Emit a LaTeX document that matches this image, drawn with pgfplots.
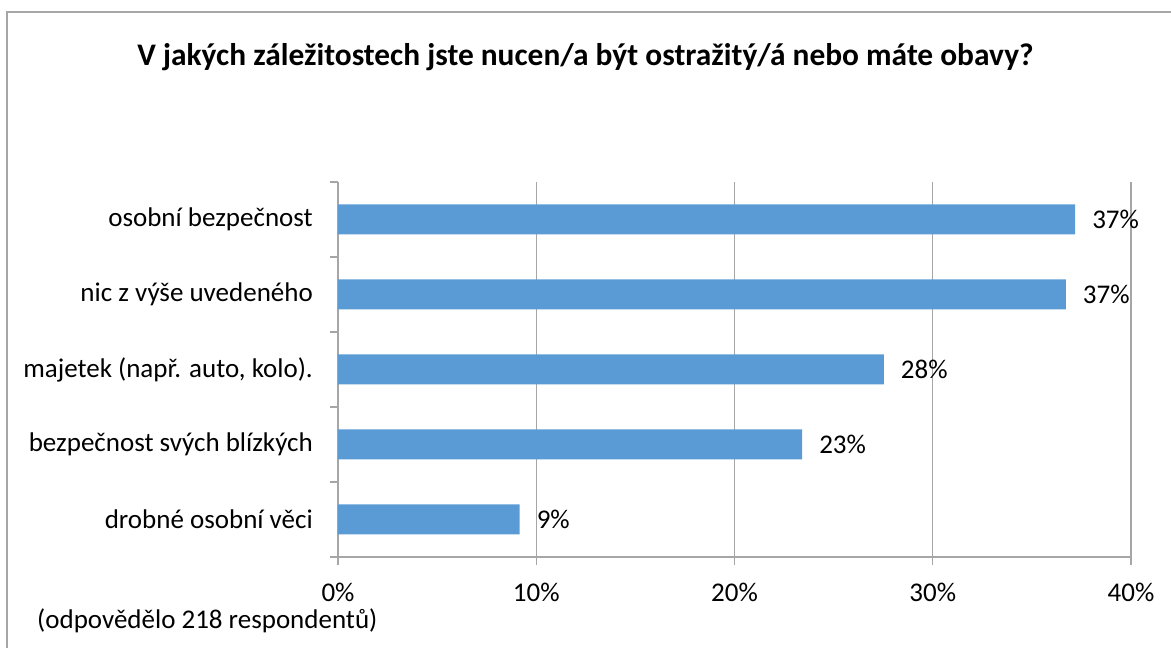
\documentclass[border=0pt]{standalone}
\usepackage{pgfplots}
\pgfplotsset{compat=1.18}
\usepackage{fontspec}
\setmainfont{Carlito}
\definecolor{barblue}{HTML}{5B9BD5}
\definecolor{gridgray}{HTML}{A6A6A6}
\begin{document}
\begin{tikzpicture}[x=1pt,y=1pt]
\useasboundingbox (0,0) rectangle (1171,648);
\begin{scope}
\clip (0,0) rectangle (1171,648);
\draw[color=gridgray, line width=1.5pt] (7,-20) rectangle (1190,636);
\end{scope}
\node[font=\fontsize{31.4}{36}\selectfont\bfseries] at (585.5,591) {V jakých záležitostech jste nucen/a být ostražitý/á nebo máte obavy?};
\node[font=\fontsize{27}{32}\selectfont, anchor=west, inner sep=0pt] at (37,27) {(odpovědělo 218 respondentů)};
\begin{axis}[
  at={(338pt,91pt)}, anchor=south west,
  width=793pt, height=375pt, scale only axis,
  xmin=0, xmax=40, ymin=0.5, ymax=5.5,
  /pgf/number format/assume math mode=true,
  axis lines=left,
  axis line style={-, color=gridgray, line width=1.2pt},
  tick align=outside, major tick length=8pt,
  tick style={color=gridgray, line width=1.2pt},
  xtick={0,10,20,30,40},
  xticklabel={\pgfmathprintnumber{\tick}\%},
  xticklabel style={font=\fontsize{27}{32}\selectfont, inner sep=0pt, yshift=-18pt},
  xmajorgrids, grid style={gridgray, line width=1.2pt},
  ytick={0.5,1.5,2.5,3.5,4.5,5.5}, yticklabels={},
  extra y ticks={1,2,3,4,5},
  extra y tick labels={drobné osobní věci, bezpečnost svých blízkých, {majetek (např. auto, kolo).}, nic z výše uvedeného, osobní bezpečnost},
  extra y tick style={major tick length=0pt, yticklabel style={font=\fontsize{27}{32}\selectfont, inner sep=0pt, xshift=-25pt}},
  xbar, bar width=30pt,
  nodes near coords={\pgfmathprintnumber[fixed,precision=0]{\pgfplotspointmeta}\%},
  point meta=x,
  nodes near coords style={font=\fontsize{27}{32}\selectfont, anchor=west, inner sep=0pt, xshift=17pt, text=black},
  clip=false,
]
\addplot[fill=barblue, draw=none] coordinates {(9.16,1) (23.41,2) (27.53,3) (36.71,4) (37.18,5)};
\end{axis}
\end{tikzpicture}
\end{document}
